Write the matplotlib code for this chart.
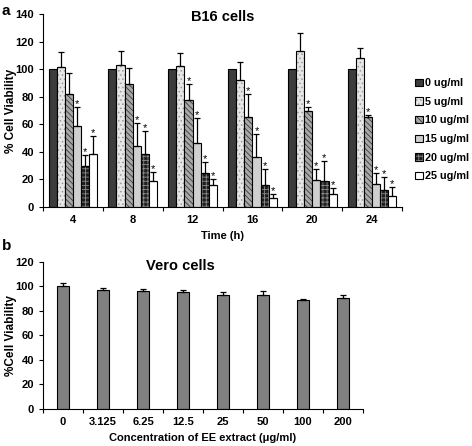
import numpy as np
import matplotlib
matplotlib.use("Agg")
import matplotlib.pyplot as plt
from matplotlib.ticker import FixedLocator, NullFormatter

plt.rcParams['font.family'] = ['Liberation Sans', 'DejaVu Sans']
plt.rcParams['font.weight'] = 'bold'
plt.rcParams['hatch.linewidth'] = 0.6

# panel a data
times = ["4", "8", "12", "16", "20", "24"]
doses = ["0 ug/ml", "5 ug/ml", "10 ug/ml", "15 ug/ml", "20 ug/ml", "25 ug/ml"]
b16_mean = [
    [100, 100, 100, 100, 100, 100],
    [101.4, 103.3, 102.6, 92.4, 112.8, 108.4],
    [81.7, 89, 77.8, 65.6, 69.5, 65.6],
    [58.8, 44.2, 46.4, 36, 19.4, 17],
    [29.7, 38.4, 24.3, 15.6, 18.5, 12.6],
    [38.4, 18.5, 16, 6.3, 9.2, 8],
]
b16_err = [
    [0, 0, 0, 0, 0, 0],
    [11, 10.2, 9.2, 12.8, 13.1, 6.6],
    [15.5, 12, 11.2, 16.6, 2.9, 1.2],
    [13.6, 16.6, 18.3, 17, 8.1, 7.3],
    [8.2, 17, 8, 11.9, 15, 8.8],
    [13, 6.8, 4, 3.4, 4.4, 6.8],
]
b16_star = [
    [0, 0, 0, 0, 0, 0],
    [0, 0, 0, 0, 0, 0],
    [0, 0, 1, 1, 1, 1],
    [1, 1, 1, 1, 1, 1],
    [1, 1, 1, 1, 1, 1],
    [1, 1, 1, 1, 1, 1],
]

# panel b data
conc = ["0", "3.125", "6.25", "12.5", "25", "50", "100", "200"]
vero_mean = [100, 97.4, 96, 95.4, 93.3, 93.2, 89.2, 90.6]
vero_err = [2.7, 1.2, 2.2, 1.4, 1.8, 3.5, 0.4, 2.6]

colors = ["#3c3c3c", "#e6e6e6", "#a8a8a8", "#cfcfcf", "#1e1e1e", "#ffffff"]
hatches = [None, "....", "\\\\\\\\\\\\", None, "++++", None]
hcolors = ["k", "#9a9a9a", "#3a3a3a", "k", "#8a8a8a", "k"]

fig = plt.figure(figsize=(4.72, 4.46), dpi=100)

ax = fig.add_axes([0.0911, 0.5359, 0.7606, 0.4327])
x = np.arange(len(times))
w = 0.136
for i in range(len(doses)):
    xs = x + (i - 2.5) * w
    bars = ax.bar(xs, b16_mean[i], w, color=colors[i], edgecolor="k", linewidth=0.8,
                  hatch=hatches[i], label=doses[i])
    for b in bars:
        b._hatch_color = matplotlib.colors.to_rgba(hcolors[i])
    if i > 0:
        ax.errorbar(xs, b16_mean[i], yerr=[np.zeros(len(times)), b16_err[i]], fmt="none",
                    ecolor="k", elinewidth=0.9, capsize=2, capthick=0.9)
    for j in range(len(times)):
        if b16_star[i][j]:
            ax.text(xs[j], b16_mean[i][j] + b16_err[i][j] - 1.5, "*", ha="center",
                    va="bottom", fontsize=8, fontweight="normal")
ax.set_xlim(-0.5, 5.5)
ax.set_ylim(0, 140)
ax.set_yticks(range(0, 141, 20))
ax.xaxis.set_major_locator(FixedLocator(np.arange(-0.5, 6, 1)))
ax.xaxis.set_major_formatter(NullFormatter())
ax.xaxis.set_minor_locator(FixedLocator(x))
ax.set_xticklabels(times, minor=True)
ax.tick_params(axis="x", which="minor", length=0, pad=6)
ax.tick_params(axis="both", which="major", direction="out", length=3, labelsize=8)
ax.tick_params(axis="x", which="minor", labelsize=8)
ax.spines["top"].set_visible(False)
ax.spines["right"].set_visible(False)
ax.set_xlabel("Time (h)", fontsize=8, fontweight="bold", labelpad=4)
ax.set_ylabel("% Cell Viability", fontsize=8.5, fontweight="bold")
ax.yaxis.set_label_coords(-0.072, 0.5)
ax.text(0.5, 0.985, "B16 cells", transform=ax.transAxes, ha="center", va="center",
        fontsize=10.5, fontweight="bold")
leg = ax.legend(loc="center left", bbox_to_anchor=(1.01, 0.40), frameon=False,
                fontsize=7.8, handlelength=0.7, handleheight=0.7, handletextpad=0.2,
                labelspacing=0.8)

ax2 = fig.add_axes([0.0911, 0.083, 0.678, 0.3296])
x2 = np.arange(len(conc))
ax2.bar(x2, vero_mean, 0.32, color="#808080", edgecolor="k", linewidth=0.8)
ax2.errorbar(x2, vero_mean, yerr=[np.zeros(len(conc)), vero_err], fmt="none",
             ecolor="k", elinewidth=0.9, capsize=2, capthick=0.9)
ax2.set_xlim(-0.5, 7.5)
ax2.set_ylim(0, 120)
ax2.set_yticks(range(0, 121, 20))
ax2.xaxis.set_major_locator(FixedLocator(np.arange(-0.5, 8, 1)))
ax2.xaxis.set_major_formatter(NullFormatter())
ax2.xaxis.set_minor_locator(FixedLocator(x2))
ax2.set_xticklabels(conc, minor=True)
ax2.tick_params(axis="x", which="minor", length=0, pad=6, labelsize=8)
ax2.tick_params(axis="both", which="major", direction="out", length=3, labelsize=8)
ax2.spines["top"].set_visible(False)
ax2.spines["right"].set_visible(False)
ax2.set_xlabel("Concentration of EE extract (\u03bcg/ml)", fontsize=8, fontweight="bold", labelpad=4)
ax2.set_ylabel("%Cell Viability", fontsize=8.5, fontweight="bold")
ax2.yaxis.set_label_coords(-0.082, 0.5)
ax2.text(0.43, 0.97, "Vero cells", transform=ax2.transAxes, ha="center", va="center",
         fontsize=10.5, fontweight="bold")

fig.text(0.004, 0.99, "a", fontsize=11, fontweight="bold", va="top")
fig.text(0.004, 0.465, "b", fontsize=11, fontweight="bold", va="top")

fig.savefig("out.png", dpi=100)
